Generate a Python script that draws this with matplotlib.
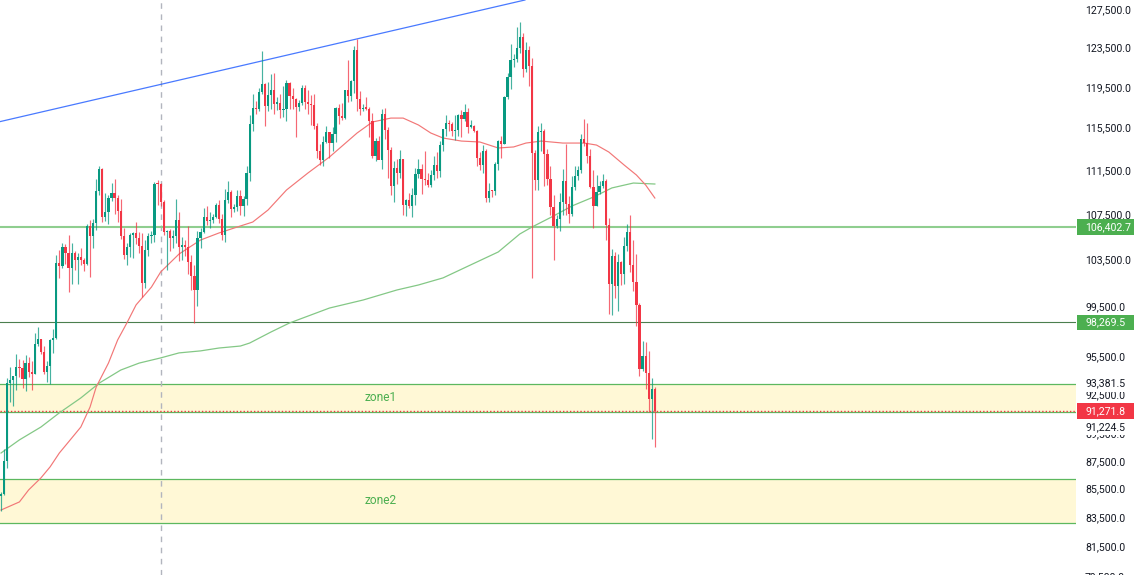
import numpy as np
import matplotlib
matplotlib.use("Agg")
import matplotlib.pyplot as plt
from matplotlib.patches import Rectangle
from matplotlib.transforms import IdentityTransform

# ---------------- data (BTC daily, prices in thousands USD) ----------------
opens_k = [
    85.07, 85.17, 87.52, 93.44, 93.70, 93.98, 94.72, 94.64, 93.75, 94.98,
    94.28, 94.17, 96.49, 96.91, 95.89, 94.32, 94.75, 96.83, 97.03, 103.27,
    102.97, 104.66, 104.14, 102.83, 104.15, 103.51, 103.74, 103.49, 103.15, 106.46,
    105.61, 106.80, 109.67, 111.68, 107.29, 107.79, 109.03, 109.44, 108.99, 107.80,
    105.64, 103.98, 104.62, 105.69, 105.88, 105.43, 104.75, 101.57, 104.39, 105.62,
    105.73, 110.26, 110.25, 108.69, 105.93, 106.09, 105.45, 105.57, 106.99, 104.62,
    104.86, 104.64, 103.31, 102.13, 100.96, 105.42, 105.94, 107.31, 106.95, 107.05,
    107.31, 108.38, 107.14, 105.71, 108.85, 109.60, 107.99, 108.22, 109.22, 108.25,
    108.95, 111.33, 115.99, 117.52, 117.42, 119.09, 119.84, 117.68, 118.76, 119.29,
    117.94, 117.97, 117.30, 117.44, 119.96, 118.65, 118.35, 117.63, 117.95, 119.45,
    118.06, 117.92, 117.83, 115.76, 113.32, 112.55, 114.22, 115.16, 114.12, 114.99,
    117.48, 116.68, 116.49, 119.29, 118.70, 120.15, 123.33, 118.38, 117.40, 117.49,
    117.45, 116.25, 112.87, 114.28, 112.50, 116.94, 115.38, 113.50, 110.12, 111.80,
    111.27, 112.58, 108.38, 108.82, 108.25, 109.24, 111.24, 111.70, 110.72, 110.66,
    110.19, 111.14, 112.07, 111.53, 113.95, 115.49, 116.07, 115.93, 115.27, 115.35,
    116.79, 116.47, 117.14, 115.70, 115.72, 115.30, 112.72, 112.01, 113.33, 109.04,
    109.65, 109.64, 112.16, 114.35, 114.05, 118.60, 120.55, 122.25, 122.40, 123.50,
    124.70, 121.40, 123.30, 121.70, 113.20, 110.65, 115.15, 115.30, 113.05, 110.75,
    108.20, 106.50, 107.15, 108.65, 110.55, 108.45, 107.55, 110.05, 111.00, 111.60,
    114.50, 114.10, 112.90, 110.05, 108.30, 109.60, 110.10, 110.55, 106.55, 101.50,
    103.90, 101.30, 103.35, 102.30, 104.70, 105.95, 103.05, 101.60, 99.70, 94.50,
    95.55, 94.25, 92.20, 92.95,
]
highs_k = [
    85.31, 88.46, 93.82, 94.70, 94.00, 95.76, 95.33, 95.22, 95.61, 95.46,
    95.20, 97.42, 97.90, 96.95, 96.33, 95.20, 96.92, 97.73, 103.98, 104.35,
    104.98, 104.90, 105.72, 104.99, 104.30, 104.13, 104.55, 103.71, 106.64, 107.06,
    107.13, 110.73, 111.98, 111.80, 109.46, 109.31, 110.40, 110.72, 109.32, 108.91,
    106.32, 104.99, 105.88, 105.98, 106.82, 105.97, 105.91, 105.29, 105.92, 106.06,
    110.51, 110.62, 110.36, 108.79, 106.16, 106.21, 106.15, 108.92, 107.75, 105.56,
    105.26, 106.53, 103.99, 103.05, 106.04, 106.30, 108.09, 108.27, 107.78, 107.56,
    108.52, 108.80, 107.56, 109.79, 110.58, 109.76, 108.44, 109.73, 109.72, 109.23,
    111.95, 116.78, 118.87, 118.22, 119.49, 123.22, 119.96, 120.09, 120.84, 120.96,
    118.54, 118.90, 119.70, 120.25, 120.05, 119.50, 118.53, 118.30, 119.80, 119.80,
    119.27, 118.80, 118.92, 116.06, 114.02, 114.78, 115.72, 115.16, 115.70, 117.63,
    117.93, 117.95, 119.30, 122.34, 120.30, 123.70, 124.47, 119.20, 117.94, 118.63,
    117.60, 117.05, 114.62, 114.82, 117.40, 117.50, 115.70, 113.70, 112.40, 112.62,
    113.50, 112.64, 108.95, 109.46, 109.90, 111.75, 112.62, 112.15, 113.38, 111.30,
    111.60, 112.90, 113.26, 114.28, 115.50, 116.79, 116.35, 116.12, 116.80, 116.95,
    117.30, 117.90, 117.50, 116.34, 115.86, 115.40, 113.30, 113.98, 113.60, 110.36,
    109.76, 112.35, 114.40, 114.80, 118.65, 121.00, 123.95, 122.90, 125.70, 126.20,
    125.10, 124.15, 123.75, 122.50, 113.50, 115.75, 116.00, 115.45, 113.60, 111.95,
    109.25, 107.50, 109.45, 111.70, 114.00, 109.15, 111.00, 111.95, 111.95, 115.00,
    116.40, 116.05, 113.60, 111.60, 111.15, 110.55, 111.20, 110.75, 107.25, 104.50,
    104.20, 104.00, 103.45, 105.50, 106.65, 107.50, 105.30, 104.00, 99.85, 96.80,
    96.65, 96.00, 93.80, 93.15,
]
lows_k = [
    83.95, 85.13, 87.08, 91.94, 91.66, 92.87, 93.93, 93.04, 92.80, 93.92,
    92.90, 94.12, 96.35, 95.75, 94.15, 93.52, 93.39, 95.79, 96.90, 102.02,
    102.82, 103.18, 100.76, 101.45, 102.64, 101.47, 103.10, 102.62, 103.11, 102.03,
    104.59, 106.12, 109.29, 106.82, 106.90, 106.65, 108.70, 107.54, 106.81, 105.33,
    103.63, 103.08, 103.80, 103.71, 104.91, 104.17, 100.37, 101.13, 103.90, 104.97,
    105.11, 108.36, 108.32, 105.68, 102.66, 104.30, 104.55, 104.98, 103.42, 103.56,
    103.90, 102.35, 100.93, 98.20, 99.62, 104.60, 105.86, 106.60, 106.30, 106.80,
    107.21, 106.74, 105.27, 105.13, 108.59, 107.26, 107.77, 107.80, 107.46, 107.41,
    108.34, 110.60, 115.25, 116.91, 117.25, 118.91, 115.74, 117.20, 117.45, 116.92,
    117.29, 116.50, 116.60, 116.20, 117.36, 117.45, 114.72, 117.20, 117.84, 117.45,
    116.93, 115.84, 115.50, 112.72, 112.02, 111.95, 114.12, 112.68, 113.38, 114.25,
    115.90, 116.30, 116.45, 118.12, 118.20, 118.95, 117.20, 116.80, 117.23, 117.30,
    114.70, 112.72, 112.38, 112.80, 111.65, 114.50, 110.80, 109.30, 108.68, 110.33,
    110.88, 107.48, 107.36, 108.10, 107.26, 108.40, 110.89, 109.35, 110.22, 110.00,
    110.05, 110.65, 110.85, 110.92, 113.40, 114.77, 115.30, 114.80, 114.40, 114.75,
    114.70, 116.20, 115.10, 115.55, 115.14, 112.00, 111.60, 111.30, 108.65, 108.62,
    109.10, 109.30, 111.60, 112.70, 113.99, 118.35, 119.35, 121.60, 122.10, 123.05,
    120.58, 121.10, 119.65, 102.00, 109.70, 109.70, 113.35, 110.15, 110.20, 107.50,
    103.50, 106.30, 106.05, 107.50, 107.50, 106.75, 107.40, 109.70, 110.70, 111.30,
    113.80, 112.20, 109.95, 106.30, 108.25, 109.40, 109.95, 105.30, 98.95, 98.90,
    100.30, 99.25, 101.40, 101.50, 104.30, 102.50, 100.90, 98.00, 94.00, 94.40,
    93.00, 91.20, 89.20, 88.60,
]
closes_k = [
    85.17, 87.52, 93.44, 93.70, 93.98, 94.72, 94.64, 93.75, 94.98, 94.28,
    94.17, 96.49, 96.91, 95.89, 94.32, 94.75, 96.83, 97.03, 103.27, 102.97,
    104.66, 104.14, 102.83, 104.15, 103.51, 103.74, 103.49, 103.15, 106.46, 105.61,
    106.80, 109.67, 111.68, 107.29, 107.79, 109.03, 109.44, 108.99, 107.80, 105.64,
    103.98, 104.62, 105.69, 105.88, 105.43, 104.75, 101.57, 104.39, 105.62, 105.73,
    110.26, 110.25, 108.69, 105.93, 106.09, 105.45, 105.57, 106.99, 104.62, 104.86,
    104.64, 103.31, 102.13, 100.96, 105.42, 105.94, 107.31, 106.95, 107.05, 107.31,
    108.38, 107.14, 105.71, 108.85, 109.60, 107.99, 108.22, 109.22, 108.25, 108.95,
    111.33, 115.99, 117.52, 117.42, 119.09, 119.84, 117.68, 118.76, 119.29, 117.94,
    117.97, 117.30, 117.44, 119.96, 118.65, 118.35, 117.63, 117.95, 119.45, 118.06,
    117.92, 117.83, 115.76, 113.32, 112.55, 114.22, 115.16, 114.12, 114.99, 117.48,
    116.68, 116.49, 119.29, 118.70, 120.15, 123.33, 118.38, 117.40, 117.49, 117.45,
    116.25, 112.87, 114.28, 112.50, 116.94, 115.38, 113.50, 110.12, 111.80, 111.27,
    112.58, 108.38, 108.82, 108.25, 109.24, 111.24, 111.70, 110.72, 110.66, 110.19,
    111.14, 112.07, 111.53, 113.95, 115.49, 116.07, 115.93, 115.27, 115.35, 116.79,
    116.47, 117.14, 115.70, 115.72, 115.30, 112.72, 112.01, 113.33, 109.04, 109.65,
    109.64, 112.16, 114.35, 114.05, 118.60, 120.55, 122.25, 122.40, 123.50, 124.70,
    121.40, 123.30, 121.70, 113.20, 110.65, 115.15, 115.30, 113.05, 110.75, 108.20,
    106.50, 107.15, 108.65, 110.55, 108.45, 107.55, 110.05, 111.00, 111.60, 114.50,
    114.10, 112.90, 110.05, 108.30, 109.60, 110.10, 110.55, 106.55, 101.50, 103.90,
    101.30, 103.35, 102.30, 104.70, 105.95, 103.05, 101.60, 99.70, 94.50, 95.55,
    94.25, 92.20, 92.95, 91.27,
]

# moving averages: (candle index, value in thousands)
ma_red_idx = [0, 6, 9, 13, 16, 19, 22, 26, 29, 31, 35, 38, 41, 44, 49, 52, 58, 65, 71, 78,
              82, 87, 93, 100, 107, 116, 121, 127, 131, 136, 140, 144, 150, 156, 162, 167,
              171, 176, 183, 190, 194, 198, 203, 207, 210, 213]
ma_red_k = [84.05, 84.62, 85.47, 86.33, 87.13, 88.14, 88.96, 90.07, 91.58, 93.12, 95.0, 96.85,
            98.23, 99.72, 101.21, 102.49, 104.04, 105.26, 105.88, 106.5, 106.85, 107.93,
            109.74, 111.31, 112.8, 115.08, 116.14, 116.52, 116.52, 115.85, 115.08, 114.6,
            114.31, 114.22, 113.65, 113.75, 114.12, 114.31, 114.12, 114.12, 113.93, 113.27,
            112.05, 111.12, 110.2, 109.01]
ma_green_idx = [0, 6, 13, 19, 26, 32, 39, 45, 52, 58, 65, 71, 78, 81, 88, 94, 101, 107, 118,
                129, 136, 144, 153, 162, 169, 173, 180, 186, 193, 199, 206, 213]
ma_green_k = [88.14, 89.11, 90.07, 91.14, 92.28, 93.43, 94.45, 95.0, 95.41, 95.81, 95.97, 96.2,
              96.36, 96.6, 97.5, 98.23, 98.89, 99.46, 100.13, 100.97, 101.39, 101.99, 103.1,
              104.22, 105.79, 106.41, 107.39, 108.29, 109.1, 109.93, 110.38, 110.29]

# trend line anchors (index, price)
trend_p1 = (0, 116200.0)
trend_p2 = (116, 124470.0)
vline_idx = 52

level_hi = 106402.7
level_mid = 98269.5
current_price = 91271.8
zone1 = (91224.5, 93381.5)
zone2 = (83150.0, 86250.0)

price_ticks = [127500, 123500, 119500, 115500, 111500, 107500, 103500, 99500, 95500,
               92500, 89500, 87500, 85500, 83500, 81500, 79500]

# ---------------- figure ----------------
W, H = 1134, 575
FONT = "Roboto"
UP, DOWN = "#089981", "#f23645"

fig = plt.figure(figsize=(W / 100, H / 100), dpi=100, facecolor="white")
ax = fig.add_axes([0, 0, 1076 / W, 1])
ax.set_facecolor("white")
ax.set_yscale("log")
ax.set_ylim(79620, 128570)
ax.set_xlim(-0.33, 350.2)
for s in ax.spines.values():
    s.set_visible(False)
ax.set_xticks([])
ax.set_yticks([])
ax.yaxis.set_minor_locator(matplotlib.ticker.NullLocator())

o = np.array(opens_k) * 1000
h = np.array(highs_k) * 1000
l = np.array(lows_k) * 1000
c = np.array(closes_k) * 1000
idx = np.arange(len(c))
up = c >= o
cols = np.where(up, UP, DOWN)

# zones
ax.axhspan(zone1[0], zone1[1], color="#fff8d6", lw=0, zorder=0.5)
ax.axhspan(zone2[0], zone2[1], color="#fff8d6", lw=0, zorder=0.5)
for v in (zone1[0], zone1[1], zone2[0], zone2[1]):
    ax.axhline(v, color="#5cb85f", lw=0.9, zorder=1)
ax.text(123.5, np.sqrt(zone1[0] * zone1[1]), "zone1", color="#4caf50", fontsize=8.6,
        family=FONT, ha="center", va="center", zorder=2)
ax.text(123.5, np.sqrt(zone2[0] * zone2[1]), "zone2", color="#4caf50", fontsize=8.6,
        family=FONT, ha="center", va="center", zorder=2)

# horizontal levels
ax.axhline(level_hi, color="#8fce8f", lw=1.5, zorder=1.5)
ax.axhline(level_mid, color="#4b7f4e", lw=0.8, zorder=1.5)
ax.axhline(current_price, color="#f23645", lw=1.0, ls=(0, (1, 1.5)), zorder=1.6)

# vertical dashed line
ax.axvline(vline_idx, color="#b2b5be", lw=1.0, ls=(0, (4, 4)), zorder=1)

# trend line
ax.axline(trend_p1, trend_p2, color="#2962ff", lw=0.9, alpha=0.85, zorder=2)

# moving averages
ax.plot(ma_green_idx, np.array(ma_green_k) * 1000, color="#84c886", lw=0.9, zorder=2)
ax.plot(ma_red_idx, np.array(ma_red_k) * 1000, color="#f27777", lw=0.85, zorder=2)

# candles
ax.vlines(idx, l, h, colors=cols, lw=0.85, alpha=0.75, zorder=3)
body = np.maximum(np.abs(c - o), c * 0.0009)
ax.bar(idx, body, bottom=np.minimum(o, c), width=0.72, color=cols, lw=0, zorder=4)

# ---------------- right price scale ----------------
def ypix(p):
    return ax.transData.transform((0, p))[1]

LX = 1085
for t in price_ticks:
    fig.text(LX / W, ypix(t) / H, f"{t:,.1f}", ha="left", va="center", fontsize=7.6,
             family=FONT, color="#131722", zorder=1)

def tag(price, text, bg, fg, dy=0):
    yp = ypix(price) + dy
    fig.add_artist(Rectangle((1077, yp - 7.8), 60, 15.6, transform=IdentityTransform(),
                             facecolor=bg, edgecolor="none", zorder=2))
    fig.text(LX / W, yp / H, text, ha="left", va="center", fontsize=7.6, family=FONT,
             color=fg, zorder=3)

tag(level_hi, f"{level_hi:,.1f}", "#4caf50", "white")
tag(level_mid, f"{level_mid:,.1f}", "#4caf50", "white")
tag(zone1[1], f"{zone1[1]:,.1f}", "white", "#131722")
tag(zone1[0], f"{zone1[0]:,.1f}", "white", "#131722", dy=-15)
tag(current_price, f"{current_price:,.1f}", "#f23645", "white")

fig.savefig("out.png", dpi=100, facecolor="white")
